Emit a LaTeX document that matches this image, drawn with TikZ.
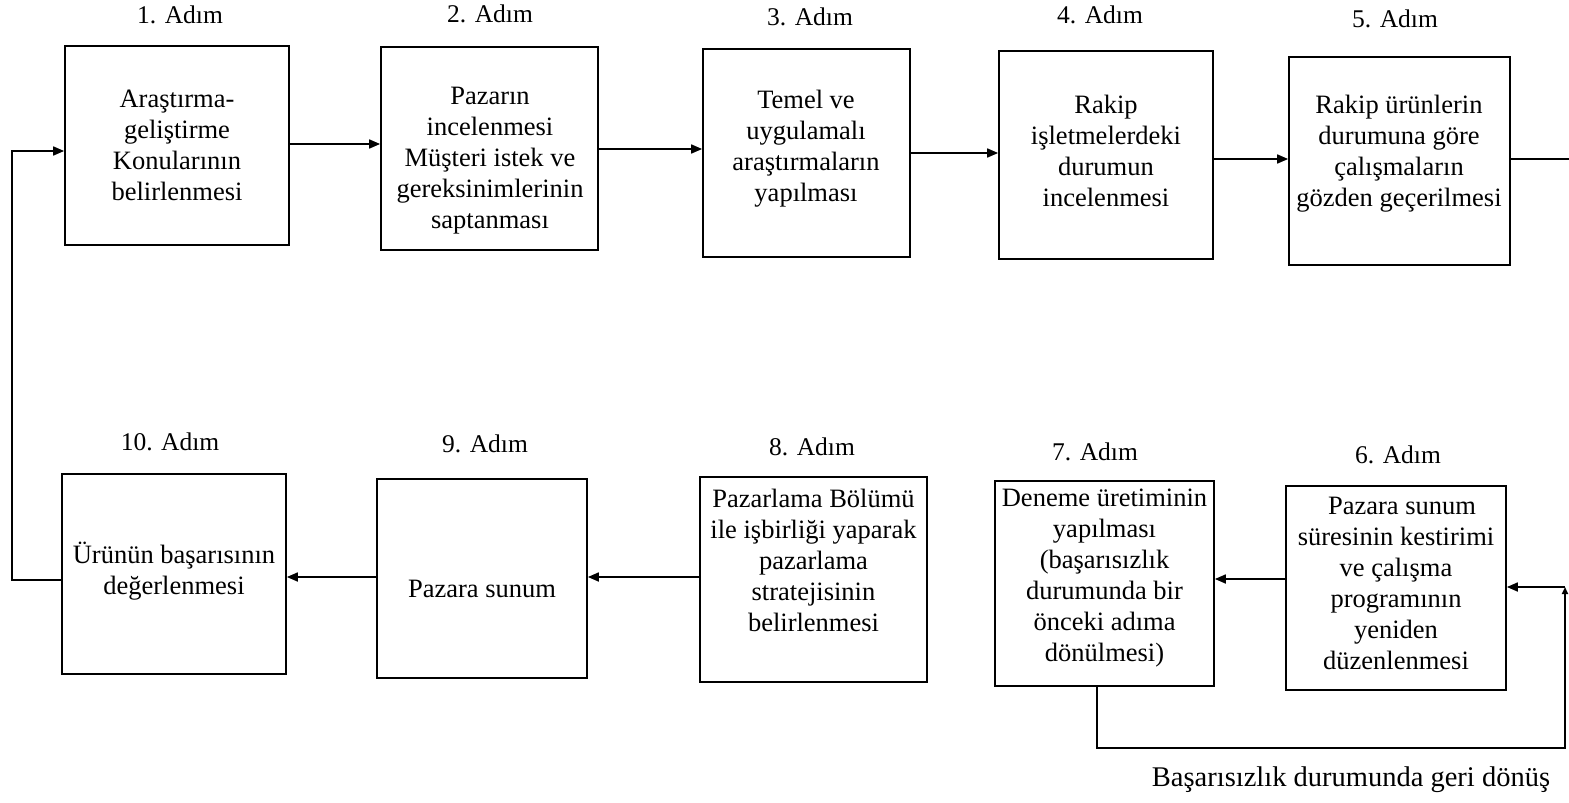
\documentclass[tikz,border=0pt]{standalone}
\usepackage{fontspec}
\setmainfont{Liberation Serif}
\usetikzlibrary{arrows.meta}
\begin{document}
\begin{tikzpicture}[x=1pt,y=-1pt,
  box/.style={draw, line width=1.7pt, rectangle, inner sep=0pt},
  txt/.style={align=center, font=\fontsize{26.5}{31}\selectfont, inner sep=0pt},
  adimlbl/.style={font=\fontsize{25.5}{30}\selectfont, inner sep=0pt},
  link/.style={line width=1.7pt},
  arr/.style={link, -{Triangle[length=11pt,width=9pt]}},
  smallarr/.style={link, -{Triangle[length=7pt,width=6pt]}},
]
\useasboundingbox (0,0) rectangle (1569,803);
\fill[white] (0,0) rectangle (1569,803);

% ---- top row: steps 1-5 ----
\node[box, minimum width=224pt, minimum height=199pt] (b1) at (177,145.5) {};
\node[box, minimum width=217pt, minimum height=203pt] (b2) at (489.5,148.5) {};
\node[box, minimum width=207pt, minimum height=208pt] (b3) at (806.5,153) {};
\node[box, minimum width=214pt, minimum height=208pt] (b4) at (1106,155) {};
\node[box, minimum width=221pt, minimum height=208pt] (b5) at (1399.5,161) {};

\node[txt] (t1) at (177,145) {Araştırma-\\geliştirme\\Konularının\\belirlenmesi};
\node[txt] (t2) at (490,161) {Pazarın\\incelenmesi\\Müşteri istek ve\\gereksinimlerinin\\saptanması};
\node[txt] (t3) at (806,149) {Temel ve\\uygulamalı\\araştırmaların\\yapılması};
\node[txt] (t4) at (1106,151) {Rakip\\işletmelerdeki\\durumun\\incelenmesi};
\node[txt] (t5) at (1399,154) {Rakip ürünlerin\\durumuna göre\\çalışmaların\\gözden geçerilmesi};

\node[adimlbl] (s1) at (180,15) {1. Adım};
\node[adimlbl] (s2) at (490,14) {2. Adım};
\node[adimlbl] (s3) at (810,17) {3. Adım};
\node[adimlbl] (s4) at (1100,15) {4. Adım};
\node[adimlbl] (s5) at (1395,19) {5. Adım};

% ---- bottom row: steps 10-6 ----
\node[box, minimum width=224pt, minimum height=200pt] (b10) at (174,574) {};
\node[box, minimum width=210pt, minimum height=199pt] (b9) at (482,578.5) {};
\node[box, minimum width=227pt, minimum height=205pt] (b8) at (813.5,579.5) {};
\node[box, minimum width=219pt, minimum height=205pt] (b7) at (1104.5,583.5) {};
\node[box, minimum width=220pt, minimum height=204pt] (b6) at (1396,588) {};

\node[txt] (t10) at (174,571) {Ürünün başarısının\\değerlenmesi};
\node[txt] (t9) at (482,589) {Pazara sunum};
\node[txt] (t8) at (813.5,560) {Pazarlama Bölümü\\ile işbirliği yaparak\\pazarlama\\stratejisinin\\belirlenmesi};
\node[txt] (t7) at (1104.5,578) {Deneme üretiminin\\yapılması\\(başarısızlık\\durumunda bir\\önceki adıma\\dönülmesi)};
\node[txt] (t6) at (1396,583) {\hspace*{12pt}Pazara sunum\\süresinin kestirimi\\ve çalışma\\programının\\yeniden\\düzenlenmesi};

\node[adimlbl] (s10) at (170,442) {10. Adım};
\node[adimlbl] (s9) at (485,444) {9. Adım};
\node[adimlbl] (s8) at (812,447) {8. Adım};
\node[adimlbl] (s7) at (1095,452) {7. Adım};
\node[adimlbl] (s6) at (1398,455) {6. Adım};

\node[font=\fontsize{28.5}{33}\selectfont, inner sep=0pt] (geri) at (1351,780) {Başarısızlık durumunda geri dönüş};

% ---- connectors, top row ----
\draw[arr] (b1.east |- 0,144) -- (b2.west |- 0,144);
\draw[arr] (b2.east |- 0,149) -- (b3.west |- 0,149);
\draw[arr] (b3.east |- 0,153) -- (b4.west |- 0,153);
\draw[arr] (b4.east |- 0,159) -- (b5.west |- 0,159);
\coordinate (out5) at (1569,159);
\draw[link] (b5.east |- out5) -- (out5);

% ---- connectors, bottom row ----
\draw[arr] (b6.west |- 0,579) -- (b7.east |- 0,579);
\draw[arr] (b8.west |- 0,577) -- (b9.east |- 0,577);
\draw[arr] (b9.west |- 0,577) -- (b10.east |- 0,577);

% ---- loop back from step 10 to step 1 ----
\coordinate (lb) at (12,580);
\coordinate (lt) at (12,151);
\draw[arr] (b10.west |- lb) -- (lb) -- (lt) -- (b1.west |- lt);

% ---- return path after a failed trial run ----
\coordinate (fbl) at (1097,748);
\coordinate (fbr) at (1565,748);
\coordinate (fbt) at (1565,587);
\draw[smallarr] (b7.south -| fbl) -- (fbl) -- (fbr) -- (fbt);
\draw[arr] (fbt) -- (b6.east |- fbt);
\end{tikzpicture}
\end{document}
